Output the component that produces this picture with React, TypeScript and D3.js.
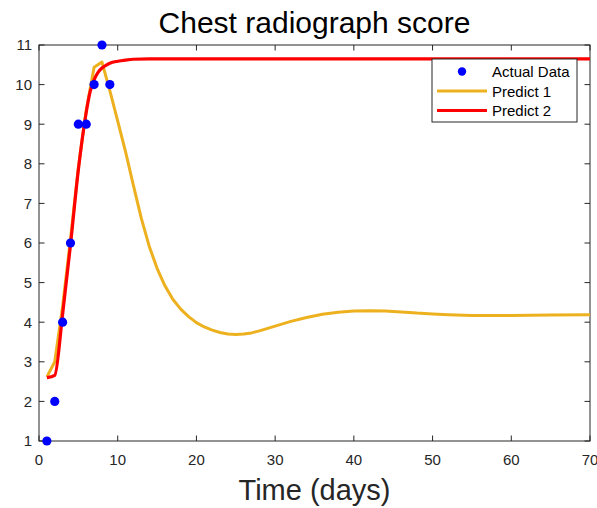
import React from "react";
import * as d3 from "d3";

const actualT = [1, 2, 3, 4, 5, 6, 7, 8, 9];
const actualV = [1, 2, 4, 6, 9, 9, 10, 11, 10];

const pred1T = [1, 2, 3, 4, 5, 6, 7, 8, 9, 10, 11, 12, 13, 14, 15, 16, 17, 18, 19, 20, 21, 22, 23, 24, 25, 26, 27, 28, 30, 32, 34, 36, 38, 40, 42, 44, 46, 48, 50, 52, 55, 60, 65, 70];
const pred1V = [2.62, 3.0, 4.4, 6.1, 7.9, 9.35, 10.44, 10.57, 9.85, 9.08, 8.3, 7.45, 6.62, 5.92, 5.36, 4.92, 4.58, 4.33, 4.14, 3.99, 3.88, 3.8, 3.74, 3.7, 3.69, 3.7, 3.73, 3.78, 3.9, 4.02, 4.12, 4.2, 4.25, 4.28, 4.29, 4.28, 4.26, 4.23, 4.21, 4.19, 4.17, 4.17, 4.18, 4.19];

const pred2T = [1, 2, 3, 4, 5, 6, 6.5, 7, 7.5, 8, 8.6, 9, 10, 11, 12, 14, 20, 70];
const pred2V = [2.6, 2.66, 4.2, 5.95, 7.85, 9.3, 9.82, 10.12, 10.31, 10.42, 10.5, 10.54, 10.59, 10.62, 10.64, 10.65, 10.65, 10.65];

const xTicks = [0, 10, 20, 30, 40, 50, 60, 70];
const yTicks = [1, 2, 3, 4, 5, 6, 7, 8, 9, 10, 11];

const titleText = "Chest radiograph score";
const xLabel = "Time (days)";
const legendLabels = ["Actual Data", "Predict 1", "Predict 2"];

const W = 597;
const H = 508;
const L = 39, R = 590, T = 45, B = 441;
const FONT = "'Liberation Sans', Arial, Helvetica, sans-serif";
const AX = "#262626";

export default function App() {
  const x = d3.scaleLinear().domain([0, 70]).range([L, R]);
  const y = d3.scaleLinear().domain([1, 11]).range([B, T]);

  const line = d3.line<[number, number]>().x(d => x(d[0])).y(d => y(d[1]));
  const line2 = d3.line<[number, number]>().x(d => x(d[0])).y(d => y(d[1])).curve(d3.curveMonotoneX);

  const p1 = pred1T.map((t, i) => [t, pred1V[i]] as [number, number]);
  const p2 = pred2T.map((t, i) => [t, pred2V[i]] as [number, number]);

  const lgX = 432, lgY = 59, lgW = 145, lgH = 63;

  return (
    <svg width={W} height={H} style={{ position: "absolute", left: 0, top: 0, background: "#fff" }} fontFamily={FONT}>
      <rect x={0} y={0} width={W} height={H} fill="#fff" />
      <text x={(L + R) / 2} y={33} textAnchor="middle" fontSize={30} fill="#000">{titleText}</text>

      {xTicks.map(t => (
        <g key={"xt" + t}>
          <line x1={x(t)} x2={x(t)} y1={B} y2={B - 5.5} stroke={AX} strokeWidth={1} />
          <line x1={x(t)} x2={x(t)} y1={T} y2={T + 5.5} stroke={AX} strokeWidth={1} />
          <text x={x(t)} y={465} textAnchor="middle" fontSize={15} fill={AX}>{t}</text>
        </g>
      ))}
      {yTicks.map(v => (
        <g key={"yt" + v}>
          <line x1={L} x2={L + 5.5} y1={y(v)} y2={y(v)} stroke={AX} strokeWidth={1} />
          <line x1={R} x2={R - 5.5} y1={y(v)} y2={y(v)} stroke={AX} strokeWidth={1} />
          <text x={32} y={y(v) + 5.3} textAnchor="end" fontSize={15} fill={AX}>{v}</text>
        </g>
      ))}
      <rect x={L} y={T} width={R - L} height={B - T} fill="none" stroke={AX} strokeWidth={1} />

      <text x={(L + R) / 2} y={500} textAnchor="middle" fontSize={29} fill={AX}>{xLabel}</text>

      <path d={line(p1) || ""} fill="none" stroke="#EDB120" strokeWidth={3} strokeLinejoin="round" />
      <path d={line2(p2) || ""} fill="none" stroke="#FF0000" strokeWidth={3.2} strokeLinejoin="round" />

      {actualT.map((t, i) => (
        <circle key={"d" + i} cx={x(t)} cy={y(actualV[i])} r={4.6} fill="#0000FF" />
      ))}

      <rect x={lgX} y={lgY} width={lgW} height={lgH} fill="#fff" stroke={AX} strokeWidth={1} />
      <circle cx={462} cy={71.5} r={4.2} fill="#0000FF" />
      <line x1={437} x2={487} y1={91} y2={91} stroke="#EDB120" strokeWidth={3} />
      <line x1={437} x2={487} y1={110.5} y2={110.5} stroke="#FF0000" strokeWidth={3.2} />
      {legendLabels.map((s, i) => (
        <text key={s} x={492} y={77 + i * 19.5} fontSize={15} fill="#000">{s}</text>
      ))}
    </svg>
  );
}
